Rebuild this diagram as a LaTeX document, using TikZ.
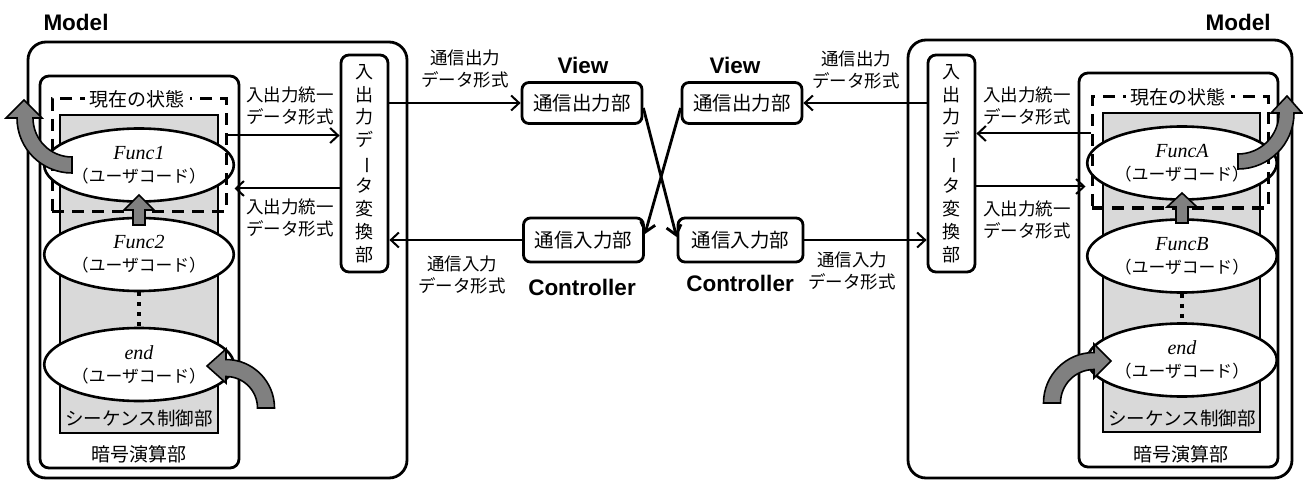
\documentclass[tikz,border=0pt]{standalone}
\usepackage{fontspec}
\setmainfont{Liberation Serif}
\newfontfamily\jp{Noto Sans CJK JP}
\newfontfamily\sansb{Liberation Sans}
\usetikzlibrary{arrows.meta,calc,shapes.geometric}
\newcommand{\vbarchar}{\rotatebox[origin=c]{-90}{ー}}
\tikzset{
  modelbox/.style={draw, line width=2.8pt, rounded corners=18pt, inner sep=0pt},
  cryptobox/.style={draw, line width=2.8pt, rounded corners=9pt, inner sep=0pt},
  seqbox/.style={draw, fill=black!15, line width=2.8pt, inner sep=0pt},
  dashbox/.style={draw, line width=3pt, dash pattern=on 12pt off 8pt, inner sep=0pt},
  convbox/.style={draw, fill=white, line width=2.8pt, rounded corners=8pt, inner sep=0pt,
    minimum width=47pt, minimum height=217pt, align=center,
    font=\jp\fontsize{18}{22.9}\selectfont},
  commbox/.style={draw, fill=white, line width=2.8pt, rounded corners=7pt, inner sep=0pt,
    minimum width=120pt, minimum height=41pt, font=\jp\fontsize{19.5}{23}\selectfont},
  func/.style={ellipse, draw, fill=white, line width=2.6pt, inner sep=0pt,
    minimum width=138pt, minimum height=73pt, align=center,
    font=\fontsize{20}{23}\selectfont},
  title/.style={font=\sansb\bfseries\fontsize{22.5}{26}\selectfont, inner sep=0pt},
  lbl/.style={font=\jp\fontsize{17.5}{22}\selectfont, inner sep=0pt, align=center},
  inlbl/.style={font=\jp\fontsize{18.5}{22}\selectfont, inner sep=0pt},
  statelbl/.style={font=\jp\fontsize{19}{22}\selectfont, fill=white, inner xsep=5pt, inner ysep=2pt},
  conn/.style={line width=2pt, -{Straight Barb[length=8pt,width=15pt]}},
  cross/.style={line width=2.8pt, -{Straight Barb[length=9pt,width=15pt]}},
  blockarrow/.style={fill=black!50, draw=black, line width=1.6pt, line join=miter},
  dots/.style={line width=3.5pt, dash pattern=on 4pt off 6pt},
}
\newcommand{\funclabel}[1]{\textit{#1}\\{\jp\fontsize{16.8}{23}\selectfont （ユーザコード）}}
\begin{document}
\begin{tikzpicture}[x=1pt,y=-1pt]
\useasboundingbox (0,0) rectangle (1303,481);

% ---------- left model ----------
\node[title] (lmodeltitle) at (76,22) {Model};
\node[modelbox, minimum width=379pt, minimum height=436pt] (lmodel) at (217.5,260) {};
\node[cryptobox, minimum width=199pt, minimum height=392pt] (lcrypto) at (139.5,272) {};
\node[seqbox, minimum width=158pt, minimum height=318pt] (lseq) at (139,274) {};
\node[convbox] (lconv) at (364.5,163.5) {入\\出\\力\\デ\\\vbarchar\\タ\\変\\換\\部};

\node[func] (lf1) at (139,165) {\funclabel{Func1}};
\node[func] (lf2) at (139,254.5) {\funclabel{Func2}};
\node[func] (lend) at (139,364.5) {\funclabel{end}};
\draw[dots] (lf2.south) -- (lend.north);

\node[dashbox, minimum width=174pt, minimum height=112pt] (ldash) at (139,155) {};
\node[statelbl] (lstate) at (137,99) {現在の状態};
\node[inlbl] (lseqlbl) at (139,418) {シーケンス制御部};
\node[inlbl, font=\jp\fontsize{19}{22}\selectfont] (lcryptolbl) at (139,454) {暗号演算部};

% ---------- right model ----------
\node[title] (rmodeltitle) at (1238,22) {Model};
\node[modelbox, minimum width=384pt, minimum height=438pt] (rmodel) at (1100,259) {};
\node[cryptobox, minimum width=199pt, minimum height=394pt] (rcrypto) at (1178.5,270) {};
\node[seqbox, minimum width=157pt, minimum height=319pt] (rseq) at (1181.5,272.5) {};
\node[convbox] (rconv) at (951.5,163.5) {入\\出\\力\\デ\\\vbarchar\\タ\\変\\換\\部};

\node[func] (rfa) at (1182,163) {\funclabel{FuncA}};
\node[func] (rfb) at (1182,256) {\funclabel{FuncB}};
\node[func] (rend) at (1182,360) {\funclabel{end}};
\draw[dots] (rfb.south) -- (rend.north);

\node[dashbox, minimum width=176pt, minimum height=111pt] (rdash) at (1180,152.5) {};
\node[statelbl] (rstate) at (1178,97) {現在の状態};
\node[inlbl] (rseqlbl) at (1182,418) {シーケンス制御部};
\node[inlbl, font=\jp\fontsize{19}{22}\selectfont] (rcryptolbl) at (1181,454) {暗号演算部};

% ---------- View / Controller ----------
\node[title] (lviewtitle) at (583,65) {View};
\node[title] (rviewtitle) at (735,65) {View};
\node[commbox] (lview) at (582,103) {通信出力部};
\node[commbox] (rview) at (742,103) {通信出力部};
\node[commbox, minimum height=44pt] (lctrl) at (583.5,240) {通信入力部};
\node[commbox, minimum height=44pt, minimum width=125pt] (rctrl) at (740.5,240) {通信入力部};
\node[title] (lctrltitle) at (582,287) {Controller};
\node[title] (rctrltitle) at (740,283) {Controller};

% ---------- connectors ----------
% left model inside
\coordinate (ldashout) at ($(ldash.north east)+(0,38)$);
\coordinate (ldashin) at ($(ldash.north east)+(7,91)$);
\draw[conn] (ldashout) -- (ldashout -| lconv.west);
\draw[conn] (ldashin -| lconv.west) -- (ldashin);
\node[lbl] (llbl1) at (290,106) {入出力統一\\データ形式};
\node[lbl] (llbl2) at (290,218) {入出力統一\\データ形式};

% right model inside
\coordinate (rdashout) at ($(rdash.north west)+(0,38)$);
\coordinate (rdashin) at ($(rdash.north west)+(-5,91)$);
\draw[conn] (rdashout) -- (rdashout -| rconv.east);
\draw[conn] (rdashin -| rconv.east) -- (rdashin);
\node[lbl] (rlbl1) at (1027,106) {入出力統一\\データ形式};
\node[lbl] (rlbl2) at (1027,220) {入出力統一\\データ形式};

% converters to View / Controller
\draw[conn] (lconv.east |- lview.west) -- (lview.west);
\draw[conn] (lctrl.west) -- (lconv.east |- lctrl.west);
\draw[conn] (rconv.west |- rview.east) -- (rview.east);
\draw[conn] (rctrl.east) -- (rconv.west |- rctrl.east);
\node[lbl] (mlbl1) at (465,69) {通信出力\\データ形式};
\node[lbl] (mlbl2) at (462,275) {通信入力\\データ形式};
\node[lbl] (mlbl3) at (856,70) {通信出力\\データ形式};
\node[lbl] (mlbl4) at (852,271) {通信入力\\データ形式};

% crossing
\draw[cross] ([yshift=-5pt]lview.east) -- ([yshift=3pt]rctrl.west);
\draw[cross] ([yshift=-5pt]rview.west) -- ([yshift=6pt]lctrl.east);

% ---------- block arrows ----------
\filldraw[blockarrow] (72,173) arc[start angle=90,end angle=180,radius=55]
  -- (6,118) -- (24,100) -- (42,118) -- (33,118)
  arc[start angle=180,end angle=90,radius=39] -- cycle;
\filldraw[blockarrow] (133,225) -- (133,210) -- (124,210) -- (139,195) -- (154,210) -- (145,210) -- (145,225) -- cycle;
\filldraw[blockarrow] (274.5,408) arc[start angle=0,end angle=-90,radius=48.5]
  -- (226,349) -- (207,366) -- (226,383) -- (226,376.5)
  arc[start angle=-90,end angle=0,radius=31.5] -- cycle;

\filldraw[blockarrow] (1238,169) arc[start angle=90,end angle=0,radius=56]
  -- (1302,113) -- (1287,96) -- (1271,113) -- (1279,113)
  arc[start angle=0,end angle=90,radius=41] -- cycle;
\filldraw[blockarrow] (1176,223) -- (1176,207) -- (1167,207) -- (1182,193) -- (1197,207) -- (1188,207) -- (1188,223) -- cycle;
\filldraw[blockarrow] (1043.5,403) arc[start angle=180,end angle=270,radius=50.5]
  -- (1094,344) -- (1111,361) -- (1094,378) -- (1094,369.5)
  arc[start angle=270,end angle=180,radius=33.5] -- cycle;
\end{tikzpicture}
\end{document}
